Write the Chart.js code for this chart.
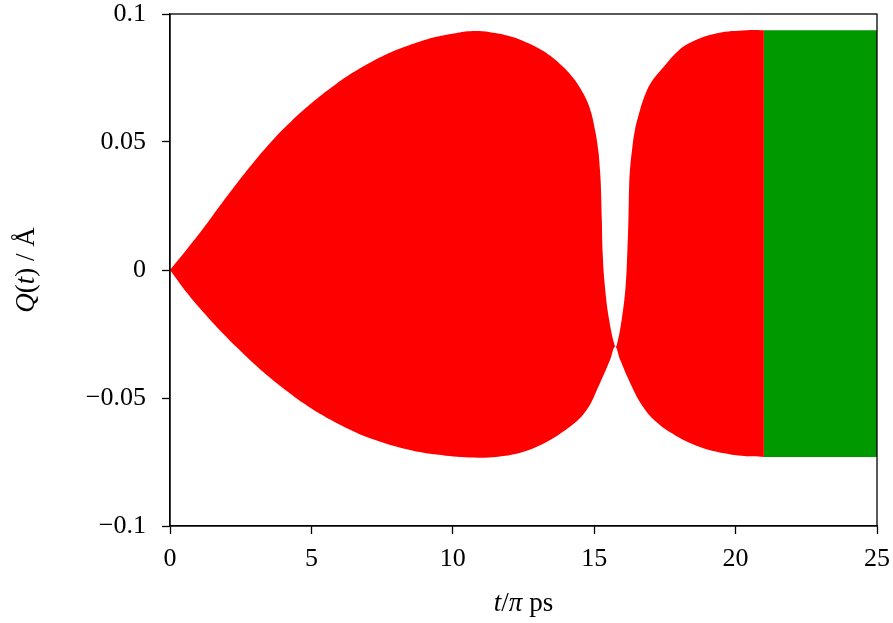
<!DOCTYPE html>
<html>
<head>
<meta charset="utf-8">
<script src="https://cdn.jsdelivr.net/npm/chart.js@4/dist/chart.umd.min.js"></script>
<style>
  html, body { margin: 0; padding: 0; background: #fff; }
  #wrap { width: 893px; height: 623px; }
</style>
</head>
<body>
<div id="wrap"><canvas id="canvas" width="893" height="623"></canvas></div>
<script>
// upper envelope of Q(t) while the drive is on
var tUpper = [0, 0.59, 1.18, 1.77, 2.36, 2.95, 3.54, 4.13, 4.71, 5.30, 5.89, 6.48, 7.07, 7.66, 8.25, 8.84, 9.43, 10.02, 10.61,
              11.32, 12.02, 12.61, 13.2, 13.79, 14.26, 14.61, 14.85, 15.03, 15.15, 15.19, 15.23, 15.27, 15.30, 15.38, 15.53, 15.74,
              15.8, 15.97, 16.11, 16.17, 16.21, 16.24, 16.28, 16.33, 16.44, 16.62, 16.73, 17.0, 17.43, 17.93, 18.39, 19.34, 20.4, 21];
var qUpper = [0, 0.0080, 0.0163, 0.0252, 0.0338, 0.0420, 0.0496, 0.0564, 0.0624, 0.0679, 0.0728, 0.0772, 0.0810, 0.0843, 0.0870, 0.0893, 0.0911, 0.0924, 0.0933,
              0.0929, 0.0913, 0.0889, 0.0855, 0.0805, 0.075, 0.069, 0.063, 0.0547, 0.0462, 0.041, 0.0345, 0.0195, 0.0065, -0.0065, -0.0195, -0.030,
              -0.0293, -0.0195, -0.0065, 0.0065, 0.0195, 0.0345, 0.041, 0.0462, 0.0547, 0.0625, 0.0664, 0.073, 0.079, 0.0852, 0.0888, 0.0925, 0.0937, 0.0937];

// lower envelope of Q(t) while the drive is on
var tLower = [0, 0.59, 1.18, 1.77, 2.36, 2.95, 3.54, 4.13, 4.71, 5.30, 5.89, 6.48, 7.07, 8.25, 9.43, 10.61, 11.79, 12.97, 14.14, 14.73, 15.2, 15.56, 15.74,
              15.92, 16.28, 16.7, 17.2, 17.9, 18.74, 19.6, 20.3, 21];
var qLower = [0, -0.0088, -0.0165, -0.0236, -0.0302, -0.0364, -0.0421, -0.0473, -0.0520, -0.0562, -0.0598, -0.0630, -0.0657, -0.0697, -0.0721, -0.0732, -0.0727, -0.069, -0.0612, -0.0547, -0.0443, -0.0352, -0.030,
              -0.0352, -0.0443, -0.053, -0.0594, -0.0648, -0.0691, -0.0716, -0.0727, -0.073];

// free oscillation after the drive is switched off
var tFree = [21, 25];
var qFreeUpper = [0.0937, 0.0937];
var qFreeLower = [-0.073, -0.073];

var xTicks = [0, 5, 10, 15, 20, 25];
var yTicks = [-0.1, -0.05, 0, 0.05, 0.1];

var serif = "'Liberation Serif', 'DejaVu Serif', serif";

function toPoints(ts, qs) {
  var pts = [];
  for (var i = 0; i < ts.length; i++) pts.push({x: ts[i], y: qs[i]});
  return pts;
}

function band(pts, color, fill) {
  return {
    data: pts,
    borderWidth: 0,
    borderColor: color,
    backgroundColor: color,
    pointRadius: 0,
    tension: 0.4,
    fill: fill
  };
}

// draws text made of pieces, some in italics
function drawParts(ctx, parts, x, y, size) {
  var total = 0;
  parts.forEach(function(p) {
    ctx.font = (p.it ? 'italic ' : '') + size + 'px ' + serif;
    p.w = ctx.measureText(p.s).width;
    total += p.w;
  });
  var cx = x - total / 2;
  parts.forEach(function(p) {
    ctx.font = (p.it ? 'italic ' : '') + size + 'px ' + serif;
    ctx.fillText(p.s, cx, y);
    cx += p.w;
  });
}

var frame = {
  id: 'frame',
  afterDraw: function(chart) {
    var a = chart.chartArea;
    var ctx = chart.ctx;
    ctx.save();
    ctx.strokeStyle = '#000';
    ctx.lineWidth = 1.3;
    ctx.strokeRect(a.left, a.top, a.right - a.left, a.bottom - a.top);

    ctx.fillStyle = '#000';
    ctx.textBaseline = 'alphabetic';
    ctx.textAlign = 'left';
    drawParts(ctx, [{s: 't', it: true}, {s: '/', it: false}, {s: 'π', it: true}, {s: ' ps', it: false}],
              (a.left + a.right) / 2, 611, 27);

    ctx.translate(34, (a.top + a.bottom) / 2);
    ctx.rotate(-Math.PI / 2);
    drawParts(ctx, [{s: 'Q', it: true}, {s: '(', it: false}, {s: 't', it: true}, {s: ') / Å', it: false}],
              0, 0, 27);
    ctx.restore();
  }
};

var fmt = function(v) {
  var s = String(Math.round(v * 1000) / 1000);
  return s.replace('-', '\u2212');
};

new Chart(document.getElementById('canvas'), {
  type: 'line',
  data: {
    datasets: [
      band(toPoints(tUpper, qUpper), '#ff0000', '+1'),
      band(toPoints(tLower, qLower), '#ff0000', false),
      band(toPoints(tFree, qFreeUpper), '#009900', '+1'),
      band(toPoints(tFree, qFreeLower), '#009900', false)
    ]
  },
  options: {
    responsive: false,
    animation: false,
    layout: { padding: { top: 14, right: 16, left: 0, bottom: 0 } },
    plugins: { legend: { display: false }, tooltip: { enabled: false } },
    scales: {
      x: {
        type: 'linear',
        min: 0, max: 25,
        afterBuildTicks: function(s) { s.ticks = xTicks.map(function(v) { return {value: v}; }); },
        afterFit: function(s) { s.height = 97; s.paddingLeft = 0; s.paddingRight = 0; },
        grid: { drawOnChartArea: false, tickLength: 8, tickColor: '#000', tickWidth: 1.3 },
        border: { color: '#000', width: 1.3 },
        ticks: { color: '#000', font: { family: serif, size: 26 }, padding: 10, maxRotation: 0 }
      },
      y: {
        min: -0.1, max: 0.1,
        afterBuildTicks: function(s) { s.ticks = yTicks.map(function(v) { return {value: v}; }); },
        afterFit: function(s) { s.width = 170; s.paddingTop = 0; s.paddingBottom = 0; },
        grid: { drawOnChartArea: false, tickLength: 8, tickColor: '#000', tickWidth: 1.3 },
        border: { color: '#000', width: 1.3 },
        ticks: { color: '#000', font: { family: serif, size: 26 }, padding: 16, callback: fmt }
      }
    }
  },
  plugins: [frame]
});
</script>
</body>
</html>
